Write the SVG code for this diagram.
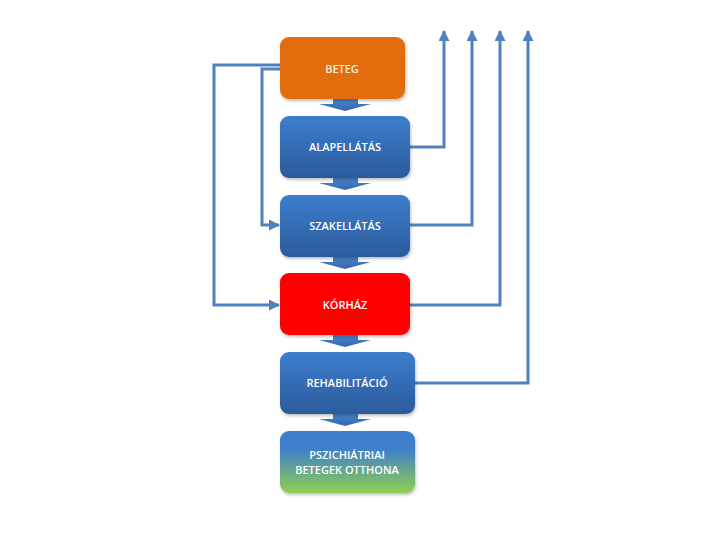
<svg xmlns="http://www.w3.org/2000/svg" width="720" height="540" viewBox="0 0 720 540">
<defs>
<linearGradient id="gBlue" x1="0" y1="0" x2="0" y2="1">
<stop offset="0" stop-color="#3D7DCC"/>
<stop offset="1" stop-color="#2B5B9C"/>
</linearGradient>
<linearGradient id="gGreen" x1="0" y1="0" x2="0" y2="1">
<stop offset="0" stop-color="#3D7DCC"/>
<stop offset="0.3" stop-color="#3F80C8"/>
<stop offset="1" stop-color="#92D050"/>
</linearGradient>
<linearGradient id="gArrow" x1="0" y1="0" x2="0" y2="1">
<stop offset="0" stop-color="#4A86CF"/>
<stop offset="1" stop-color="#3467AE"/>
</linearGradient>
<marker id="ah" markerWidth="11" markerHeight="11" refX="10" refY="5.5" orient="auto" markerUnits="userSpaceOnUse">
<path d="M0,0 L11,5.5 L0,11 Z" fill="#4F81BD"/>
</marker>
<filter id="sh" x="-10%" y="-10%" width="130%" height="130%">
<feDropShadow dx="1" dy="2" stdDeviation="1.5" flood-color="#000" flood-opacity="0.25"/>
</filter>
</defs>
<style>
.box{filter:url(#sh);}
.lbl{font-family:"Open Sans","Liberation Sans",sans-serif;font-size:11px;font-weight:600;fill:#FFFFFF;text-anchor:middle;}
.con{fill:none;stroke:#4F81BD;stroke-width:3;}
.blk{fill:url(#gArrow);}
</style>
<rect width="720" height="540" fill="#FFFFFF"/>

<g id="connectors">
<polyline class="con" points="280,65 214,65 214,305 279,305" marker-end="url(#ah)"/>
<polyline class="con" points="280,69 262,69 262,225 279,225" marker-end="url(#ah)"/>
<polyline class="con" points="410,147 444,147 444,31" marker-end="url(#ah)"/>
<polyline class="con" points="410,225 472,225 472,31" marker-end="url(#ah)"/>
<polyline class="con" points="410,305 500,305 500,31" marker-end="url(#ah)"/>
<polyline class="con" points="415,383 528,383 528,31" marker-end="url(#ah)"/>
<path class="blk" d="M333,99 H358 V104 H371 L345,111 L319,104 H333 Z"/>
<path class="blk" d="M333,178 H358 V183 H371 L345,190 L319,183 H333 Z"/>
<path class="blk" d="M333,257 H358 V262 H371 L345,269 L319,262 H333 Z"/>
<path class="blk" d="M333,335 H358 V340 H371 L345,347 L319,340 H333 Z"/>
<path class="blk" d="M333,414 H358 V419 H371 L345,426 L319,419 H333 Z"/>
</g>

<g id="beteg">
<rect class="box" x="280" y="37" width="125" height="62" rx="9" fill="#E36C0A"/>
<text class="lbl" x="342" y="73" style="fill:#FCEFD8">BETEG</text>
</g>
<g id="alapellatas">
<rect class="box" x="280" y="116" width="130" height="62" rx="9" fill="url(#gBlue)"/>
<text class="lbl" x="345" y="151">ALAPELLÁTÁS</text>
</g>
<g id="szakellatas">
<rect class="box" x="280" y="195" width="130" height="62" rx="9" fill="url(#gBlue)"/>
<text class="lbl" x="345" y="230">SZAKELLÁTÁS</text>
</g>
<g id="korhaz">
<rect class="box" x="280" y="273" width="130" height="62" rx="9" fill="#FF0000"/>
<text class="lbl" x="345" y="309">KÓRHÁZ</text>
</g>
<g id="rehabilitacio">
<rect class="box" x="280" y="352" width="135" height="62" rx="9" fill="url(#gBlue)"/>
<text class="lbl" x="347" y="387">REHABILITÁCIÓ</text>
</g>
<g id="pszichiatriai">
<rect class="box" x="280" y="431" width="135" height="62" rx="9" fill="url(#gGreen)"/>
<text class="lbl" x="347" y="459">PSZICHIÁTRIAI</text>
<text class="lbl" x="347" y="474">BETEGEK OTTHONA</text>
</g>
</svg>
